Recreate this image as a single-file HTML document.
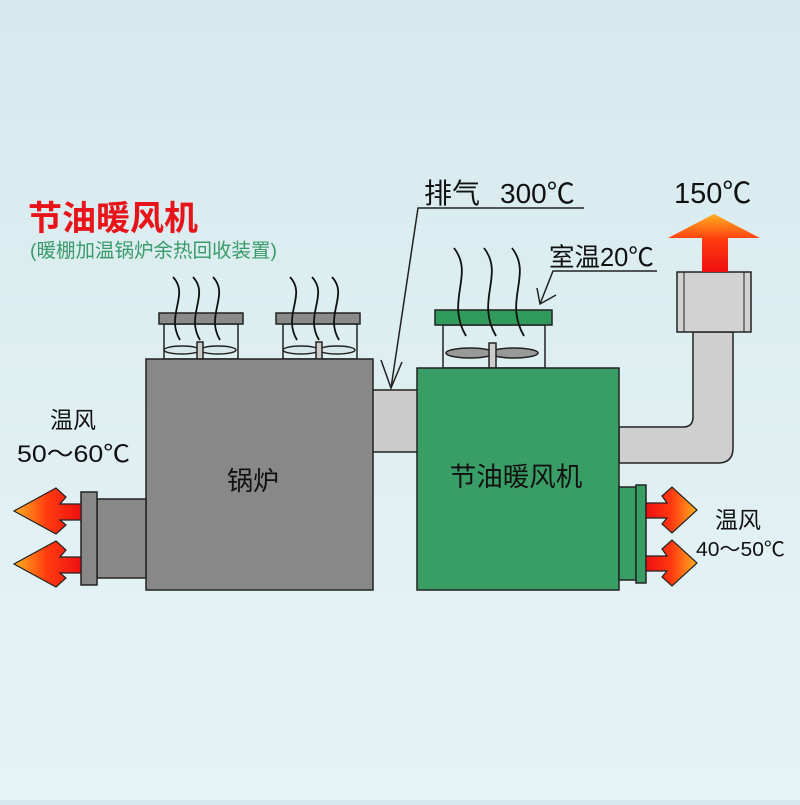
<!DOCTYPE html>
<html><head><meta charset="utf-8"><style>
html,body{margin:0;padding:0}
body{width:800px;height:800px;overflow:hidden;background:linear-gradient(#d6eaee,#e2f1f3 70%,#e6f3f5);font-family:"Liberation Sans","Noto Sans CJK SC",sans-serif}
</style></head><body>
<svg width="800" height="800" viewBox="0 0 800 800" xmlns="http://www.w3.org/2000/svg">
<defs>
<linearGradient id="gl" x1="0" x2="1" y1="0" y2="0"><stop offset="0" stop-color="#ffb020"/><stop offset="0.5" stop-color="#ff3a10"/><stop offset="1" stop-color="#ee1010"/></linearGradient>
<linearGradient id="gr" x1="1" x2="0" y1="0" y2="0"><stop offset="0" stop-color="#ffb020"/><stop offset="0.5" stop-color="#ff3a10"/><stop offset="1" stop-color="#ee1010"/></linearGradient>
<linearGradient id="gu" x1="0" x2="0" y1="0" y2="1"><stop offset="0" stop-color="#ffb020"/><stop offset="0.45" stop-color="#ff3a10"/><stop offset="1" stop-color="#ee1010"/></linearGradient>
</defs>
<g font-family="Liberation Sans, Noto Sans CJK SC, sans-serif">
<text x="28" y="230" font-size="34" font-weight="bold" fill="#e8141a">节油暖风机</text>
<text x="30" y="257" font-size="19.5" fill="#3a9a6a">(暖棚加温锅炉余热回收装置)</text>
<text x="424" y="203" font-size="28" fill="#111">排气</text>
<text x="500" y="203" font-size="28" fill="#111">300℃</text>
<text x="674" y="203" font-size="29" fill="#111">150℃</text>
<text x="549" y="266" font-size="25.5" fill="#111">室温20℃</text>
<text x="50" y="428" font-size="23" fill="#111">温风</text>
<text x="17" y="462" font-size="24" fill="#111" textLength="113" lengthAdjust="spacingAndGlyphs">50～60℃</text>
<text x="715" y="528" font-size="23" fill="#111">温风</text>
<text x="696" y="556" font-size="20" fill="#111" textLength="89" lengthAdjust="spacingAndGlyphs">40～50℃</text>
</g>
<polyline points="584,208 418,208 391,388" fill="none" stroke="#222" stroke-width="1.5"/>
<polyline points="381,360 391,388 402,362" fill="none" stroke="#222" stroke-width="1.5"/>
<polyline points="657,271 553,271 540,304" fill="none" stroke="#222" stroke-width="1.5"/>
<polyline points="537,288 540,304 556,295" fill="none" stroke="#222" stroke-width="1.5"/>
<path d="M619,427 L683,427 Q693,427 693,417 L693,332 L733,332 L733,448 Q733,463 718,463 L619,463 Z" fill="#cfcfcf" stroke="#222" stroke-width="1.5"/>
<rect x="677" y="272" width="74" height="60" fill="#d2d2d2" stroke="#222" stroke-width="1.5"/>
<line x1="684" y1="272" x2="684" y2="332" stroke="#222"/><line x1="744" y1="272" x2="744" y2="332" stroke="#222"/>
<path d="M702,272 L702,238 L668,238 L714,214 L760,238 L728,238 L728,272 Z" fill="url(#gu)"/>
<rect x="372" y="390" width="46" height="62" fill="#cccccc" stroke="#222" stroke-width="1.5"/>
<g stroke="#222" stroke-width="1.5">
<rect x="164" y="324" width="74" height="35" fill="none"/>
<rect x="159" y="313" width="84" height="11" fill="#8a8a8a"/>
<ellipse cx="182" cy="350" rx="18" ry="4" fill="#d8e8ea"/><ellipse cx="218" cy="350" rx="18" ry="4" fill="#d8e8ea"/>
<rect x="197" y="342" width="6" height="17" fill="#ccc"/>
<rect x="283" y="324" width="74" height="35" fill="none"/>
<rect x="276" y="313" width="84" height="11" fill="#8a8a8a"/>
<ellipse cx="301" cy="350" rx="18" ry="4" fill="#d8e8ea"/><ellipse cx="337" cy="350" rx="18" ry="4" fill="#d8e8ea"/>
<rect x="316" y="342" width="6" height="17" fill="#ccc"/>
</g>
<g stroke="#222" stroke-width="1.5">
<rect x="443" y="325" width="102" height="43" fill="none"/>
<rect x="435" y="310" width="117" height="15" fill="#2f9a5a"/>
<ellipse cx="470" cy="353" rx="24" ry="5" fill="#999"/><ellipse cx="514" cy="353" rx="24" ry="5" fill="#999"/>
<rect x="489" y="343" width="7" height="25" fill="#ccc"/>
</g>
<g fill="none" stroke="#111" stroke-width="1.8">
<path d="M173,277 C190,295 165,315 180,340"/><path d="M193,277 C210,295 185,315 200,340"/><path d="M213,277 C230,295 205,315 220,340"/>
<path d="M290,277 C307,295 282,315 297,340"/><path d="M312,277 C329,295 304,315 319,340"/><path d="M332,277 C349,295 324,315 339,340"/>
<path d="M454,248 C475,275 445,300 466,336"/><path d="M484,248 C505,275 475,300 496,336"/><path d="M512,248 C533,275 503,300 524,336"/>
</g>
<rect x="146" y="359" width="227" height="231" fill="#888888" stroke="#222" stroke-width="1.5"/>
<text x="253" y="490" font-size="26" text-anchor="middle" fill="#111" font-family="Liberation Sans, Noto Sans CJK SC, sans-serif">锅炉</text>
<rect x="97" y="499" width="49" height="79" fill="#888" stroke="#222" stroke-width="1.5"/>
<rect x="81" y="492" width="16" height="93" fill="#888" stroke="#222" stroke-width="1.5"/>
<rect x="417" y="368" width="202" height="222" fill="#389e66" stroke="#222" stroke-width="1.5"/>
<text x="516" y="486" font-size="26.5" text-anchor="middle" fill="#111" font-family="Liberation Sans, Noto Sans CJK SC, sans-serif">节油暖风机</text>
<rect x="619" y="487" width="17" height="93" fill="#389e66" stroke="#222" stroke-width="1.5"/>
<rect x="636" y="485" width="10" height="98" fill="#389e66" stroke="#222" stroke-width="1.5"/>
<g stroke="#222" stroke-width="1.2">
<path d="M81,504 L60,504 L66,497 L56,488 L14,511 L56,534 L66,525 L60,520 L81,520 Z" fill="url(#gl)"/>
<path d="M81,557 L60,557 L66,550 L56,541 L14,564 L56,587 L66,578 L60,573 L81,573 Z" fill="url(#gl)"/>
<path d="M646,503 L667,503 L662,496 L672,487 L697,510 L672,533 L662,524 L667,518 L646,518 Z" fill="url(#gr)"/>
<path d="M646,556 L667,556 L662,549 L672,540 L697,563 L672,586 L662,577 L667,571 L646,571 Z" fill="url(#gr)"/>
</g>
</svg>
</body></html>
